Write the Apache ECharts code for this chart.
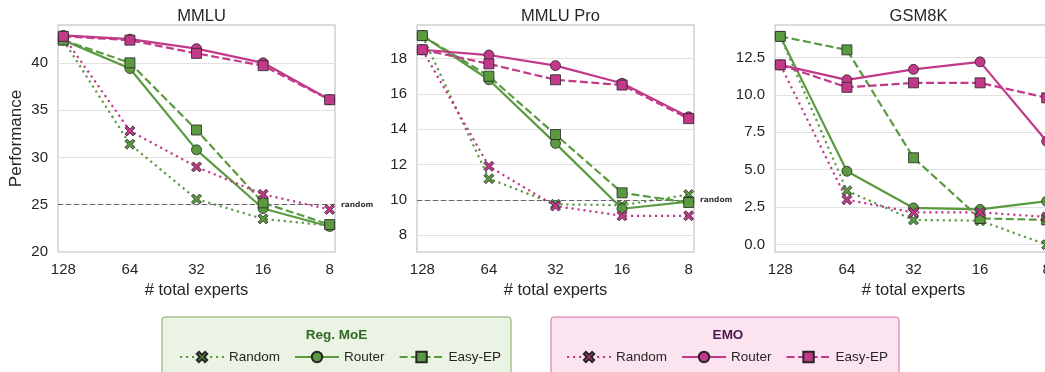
<!DOCTYPE html>
<html>
<head>
<meta charset="utf-8">
<script src="https://cdn.jsdelivr.net/npm/echarts@6/dist/echarts.min.js"></script>
<style>
html,body{margin:0;padding:0;background:#fff;}
#c{width:1045px;height:372px;}
</style>
</head>
<body>
<div id="c"></div>
<script>
// ---- data ----
const categories = ['128', '64', '32', '16', '8'];
const panelTitles = ['MMLU', 'MMLU Pro', 'GSM8K'];

const mmluRegRandom = [42.4, 31.4, 25.6, 23.5, 22.8];
const mmluRegRouter = [42.4, 39.4, 30.8, 24.6, 22.7];
const mmluRegEasy   = [42.4, 40.0, 32.9, 25.2, 22.9];
const mmluEmoRandom = [42.8, 32.8, 29.0, 26.1, 24.5];
const mmluEmoRouter = [42.9, 42.5, 41.5, 40.0, 36.1];
const mmluEmoEasy   = [42.8, 42.4, 41.0, 39.7, 36.1];

const proRegRandom = [19.3, 11.2, 9.75, 9.7, 10.3];
const proRegRouter = [19.3, 16.8, 13.2, 9.5, 9.9];
const proRegEasy   = [19.3, 17.0, 13.7, 10.4, 9.85];
const proEmoRandom = [18.5, 11.9, 9.65, 9.1, 9.1];
const proEmoRouter = [18.5, 18.2, 17.6, 16.6, 14.7];
const proEmoEasy   = [18.5, 17.7, 16.8, 16.5, 14.6];

const gsmRegRandom = [13.9, 3.6, 1.65, 1.6, 0.0];
const gsmRegRouter = [13.9, 4.9, 2.45, 2.35, 2.9];
const gsmRegEasy   = [13.9, 13.0, 5.8, 1.75, 1.65];
const gsmEmoRandom = [12.0, 3.0, 2.15, 2.15, 1.85];
const gsmEmoRouter = [12.0, 11.0, 11.7, 12.2, 6.9];
const gsmEmoEasy   = [12.0, 10.5, 10.8, 10.8, 9.8];

const mmluTicks = [20, 25, 30, 35, 40];
const proTicks = [8, 10, 12, 14, 16, 18];
const gsmTicks = [0, 2.5, 5, 7.5, 10, 12.5];
const gsmTickLabels = ['0.0', '2.5', '5.0', '7.5', '10.0', '12.5'];

const randomLevels = [25, 10, null];
const yRanges = [[20, 44], [7.05, 19.9], [-0.49, 14.66]];

// ---- styling ----
const GREEN = '#5a9a40';
const PINK = '#c2398a';
const EDGE = '#262626';
const TXT = '#262626';
const FONT = '"Liberation Sans", Arial, sans-serif';
const XSYM = 'path://M2,0 L5,3 L8,0 L10,2 L7,5 L10,8 L8,10 L5,7 L2,10 L0,8 L3,5 L0,2 Z';

const grids = [
  {left: 58, top: 25, width: 277, height: 227},
  {left: 417, top: 25, width: 277, height: 227},
  {left: 775, top: 25, width: 277, height: 227}
];

const panelData = [
  [mmluRegRandom, mmluRegRouter, mmluRegEasy, mmluEmoRandom, mmluEmoRouter, mmluEmoEasy],
  [proRegRandom, proRegRouter, proRegEasy, proEmoRandom, proEmoRouter, proEmoEasy],
  [gsmRegRandom, gsmRegRouter, gsmRegEasy, gsmEmoRandom, gsmEmoRouter, gsmEmoEasy]
];
const yTicks = [mmluTicks, proTicks, gsmTicks];
const yTickFmt = [v => String(v), v => String(v), v => gsmTickLabels[gsmTicks.indexOf(v)] ?? String(v)];

const seriesDefs = [
  {name: 'Reg. MoE Random', color: GREEN, symbol: XSYM, size: 10, type: [2.2, 3.8]},
  {name: 'Reg. MoE Router', color: GREEN, symbol: 'circle', size: 10, type: 'solid'},
  {name: 'Reg. MoE Easy-EP', color: GREEN, symbol: 'rect', size: 10, type: [8, 3.5]},
  {name: 'EMO Random', color: PINK, symbol: XSYM, size: 10, type: [2.2, 3.8]},
  {name: 'EMO Router', color: PINK, symbol: 'circle', size: 10, type: 'solid'},
  {name: 'EMO Easy-EP', color: PINK, symbol: 'rect', size: 10, type: [8, 3.5]}
];

const xAxes = [], yAxes = [], series = [], titles = [];
grids.forEach((g, p) => {
  xAxes.push({
    type: 'value', gridIndex: p, min: -0.08, max: 4.08,
    axisLine: {show: false}, axisTick: {show: false, customValues: [0, 1, 2, 3, 4]},
    splitLine: {show: false},
    axisLabel: {customValues: [0, 1, 2, 3, 4], formatter: v => categories[Math.round(v)],
      color: TXT, fontSize: 15, fontFamily: FONT, margin: 10},
    name: '# total experts', nameLocation: 'middle', nameGap: 25,
    nameTextStyle: {color: TXT, fontSize: 16.5, fontFamily: FONT}
  });
  yAxes.push({
    type: 'value', gridIndex: p, min: yRanges[p][0], max: yRanges[p][1],
    axisLine: {show: false},
    axisTick: {show: false, customValues: yTicks[p]},
    splitLine: {show: true, lineStyle: {color: '#e1e1e1', width: 1.2}},
    axisLabel: {customValues: yTicks[p], formatter: yTickFmt[p],
      color: TXT, fontSize: 15, fontFamily: FONT, margin: 10},
    name: p === 0 ? 'Performance' : '', nameLocation: 'middle', nameGap: 33,
    nameTextStyle: {color: TXT, fontSize: 17, fontFamily: FONT}
  });
  titles.push({
    text: panelTitles[p], left: g.left + g.width / 2, top: 3, textAlign: 'center',
    textStyle: {color: TXT, fontSize: 16.5, fontWeight: 'normal', fontFamily: FONT}
  });
  seriesDefs.forEach((d, k) => {
    const s = {
      name: d.name, type: 'line', xAxisIndex: p, yAxisIndex: p,
      data: panelData[p][k].map((v, i) => [i, v]),
      symbol: d.symbol, symbolSize: d.size, showSymbol: true,
      lineStyle: {color: d.color, width: 2.2, type: d.type, cap: 'butt'},
      itemStyle: {color: d.color, borderColor: EDGE, borderWidth: 0.8, opacity: 1},
      z: 3 + k, animation: false, emphasis: {disabled: true}
    };
    if (k === 0 && randomLevels[p] !== null) {
      s.markLine = {
        silent: true, symbol: 'none', animation: false,
        lineStyle: {color: '#666', width: 1.2, type: [5, 3]},
        label: {show: true, position: 'end', formatter: 'random', distance: 6,
          color: '#333', fontSize: 7.5, fontWeight: 'bold', fontFamily: '"DejaVu Sans", sans-serif'},
        data: [{yAxis: randomLevels[p]}]
      };
    }
    series.push(s);
  });
});

const legendCommon = {
  orient: 'horizontal', itemWidth: 44, itemHeight: 13, itemGap: 14,
  textStyle: {color: TXT, fontSize: 13.5, fontFamily: FONT},
  formatter: n => n.replace('Reg. MoE ', '').replace('EMO ', ''),
  selectedMode: false
};

const option = {
  backgroundColor: '#fff',
  animation: false,
  title: titles,
  grid: grids.map(g => Object.assign({show: true, outerBoundsMode: 'none', containLabel: false,
    borderColor: '#cfcfcf', borderWidth: 1.5, backgroundColor: '#fff'}, g)),
  xAxis: xAxes,
  yAxis: yAxes,
  series: series,
  legend: [
    Object.assign({}, legendCommon, {left: 174, top: 345, data: ['Reg. MoE Random', 'Reg. MoE Router', 'Reg. MoE Easy-EP']}),
    Object.assign({}, legendCommon, {left: 561, top: 345, data: ['EMO Random', 'EMO Router', 'EMO Easy-EP']})
  ],
  graphic: [
    {type: 'rect', z: -10, shape: {x: 162, y: 317, width: 349, height: 70, r: 3},
      style: {fill: '#ebf4e4', stroke: '#7aab5e', lineWidth: 1}},
    {type: 'rect', z: -10, shape: {x: 551, y: 317, width: 348, height: 70, r: 3},
      style: {fill: '#fbe4ef', stroke: '#d46fa8', lineWidth: 1}},
    {type: 'text', z: 10, x: 336.5, y: 335,
      style: {text: 'Reg. MoE', fill: '#2f6a22', font: 'bold 13.5px ' + FONT, textAlign: 'center', textVerticalAlign: 'middle'}},
    {type: 'text', z: 10, x: 728, y: 335,
      style: {text: 'EMO', fill: '#4b1750', font: 'bold 13.5px ' + FONT, textAlign: 'center', textVerticalAlign: 'middle'}}
  ]
};

const chart = echarts.init(document.getElementById('c'), null, {renderer: 'canvas'});
chart.setOption(option);
</script>
</body>
</html>
